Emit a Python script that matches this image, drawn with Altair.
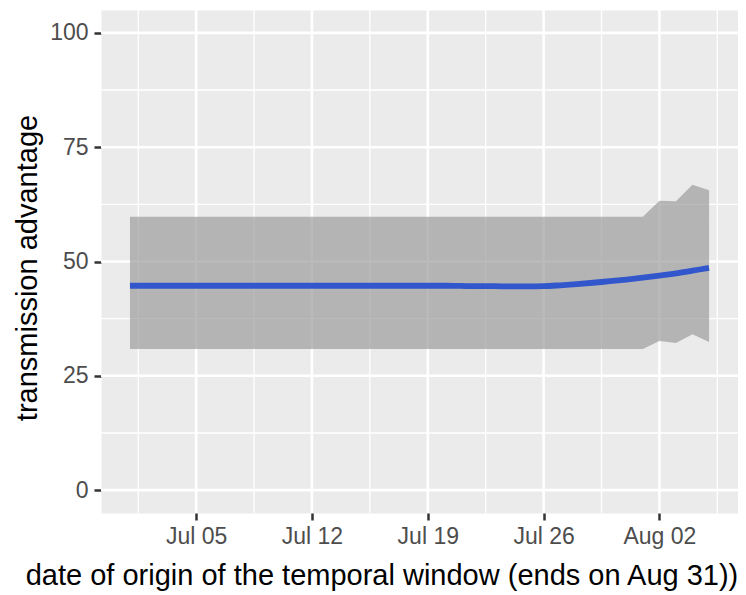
import altair as alt
import pandas as pd

# ---- data ----
start_date = "2021-07-01"
end_date = "2021-08-05"
median = [44.7] * 20 + [44.65, 44.6, 44.6, 44.55, 44.55, 44.6, 44.8, 45.05, 45.35,
                        45.7, 46.05, 46.45, 46.9, 47.4, 48.0, 48.6]
lower = [30.85] * 32 + [32.6, 32.2, 34.1, 32.4]
upper = [59.8] * 32 + [63.3, 63.2, 66.8, 65.6]

x_breaks = ["2021-07-05", "2021-07-12", "2021-07-19", "2021-07-26", "2021-08-02"]
y_breaks = [0, 25, 50, 75, 100]
y_minor = [12.5, 37.5, 62.5, 87.5]

DAY = 86400000


def to_ms(values):
    return [int(v) for v in (pd.to_datetime(values).asi8 // 1_000_000)]


dates_ms = to_ms(pd.date_range(start_date, end_date, freq="D"))
xb_ms = to_ms(x_breaks)
xm_ms = [b - 3.5 * DAY for b in xb_ms] + [xb_ms[-1] + 3.5 * DAY]

span = dates_ms[-1] - dates_ms[0]
x_dom = [dates_ms[0] - 0.05 * span, dates_ms[-1] + 0.05 * span]

df = pd.DataFrame({"t": dates_ms, "med": median, "lo": lower, "hi": upper})
df_xmaj = pd.DataFrame({"t": xb_ms})
df_xmin = pd.DataFrame({"t": xm_ms})
df_ymaj = pd.DataFrame({"v": y_breaks})
df_ymin = pd.DataFrame({"v": y_minor})

FONT = "Liberation Sans"

x_scale = alt.Scale(type="utc", domain=x_dom, nice=False)
y_scale = alt.Scale(domain=[-5, 105], nice=False, zero=False)

month_expr = (
    "['Jan','Feb','Mar','Apr','May','Jun','Jul','Aug','Sep','Oct','Nov','Dec']"
    "[utcmonth(datum.value)] + ' ' + (utcdate(datum.value) < 10 ? '0' : '') + utcdate(datum.value)"
)

x_axis = alt.Axis(
    values=xb_ms, labelExpr=month_expr, grid=False, domain=False,
    tickSize=7, tickWidth=2.5, tickColor="#333333",
    labelFontSize=23, labelColor="#4D4D4D", labelFont=FONT, labelPadding=5,
    labelFlush=False, labelOverlap=False,
    title="date of origin of the temporal window (ends on Aug 31))",
    titleFontSize=29, titleFont=FONT, titleFontWeight="normal", titleColor="black",
    titleX=280.5, titleY=71, titleAlign="center", titleBaseline="alphabetic",
)
y_axis = alt.Axis(
    values=y_breaks, grid=False, domain=False,
    tickSize=7, tickWidth=2.5, tickColor="#333333",
    labelFontSize=23, labelColor="#4D4D4D", labelFont=FONT, labelPadding=6,
    title="transmission advantage",
    titleFontSize=29, titleFont=FONT, titleFontWeight="normal", titleColor="black",
    titleX=-65, titleY=257.5, titleAngle=270, titleAlign="center",
    titleBaseline="alphabetic",
)


def X(field="t"):
    return alt.X(f"{field}:T", scale=x_scale, axis=x_axis)


def Y(field):
    return alt.Y(f"{field}:Q", scale=y_scale, axis=y_axis)


g_xmin = alt.Chart(df_xmin).mark_rule(color="white", strokeWidth=1.3).encode(x=X())
g_ymin = alt.Chart(df_ymin).mark_rule(color="white", strokeWidth=1.3).encode(y=Y("v"))
g_xmaj = alt.Chart(df_xmaj).mark_rule(color="white", strokeWidth=2.6).encode(x=X())
g_ymaj = alt.Chart(df_ymaj).mark_rule(color="white", strokeWidth=2.6).encode(y=Y("v"))

band = alt.Chart(df).mark_area(color="#999999", opacity=0.68).encode(
    x=X(), y=Y("lo"), y2="hi:Q"
)
line = alt.Chart(df).mark_line(color="#3256CC", strokeWidth=5.8,
                               interpolate="monotone").encode(x=X(), y=Y("med"))

chart = alt.layer(g_xmin, g_ymin, g_xmaj, g_ymaj, band, line).properties(
    width=637, height=503,
    autosize=alt.AutoSizeParams(type="none"),
    padding={"left": 93, "top": 2, "right": 0, "bottom": 82},
).configure_view(fill="#EBEBEB", stroke="transparent")

chart.save("out.html", embed_options={"renderer": "svg", "actions": False})
